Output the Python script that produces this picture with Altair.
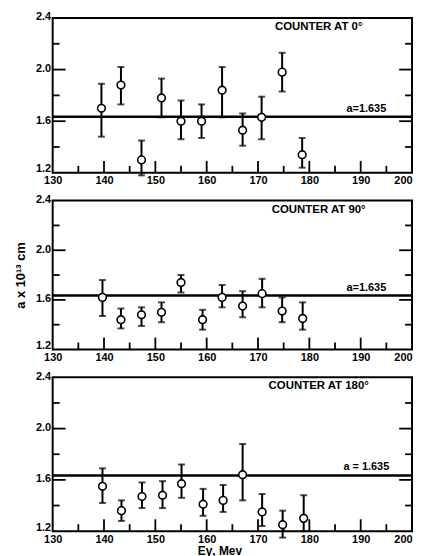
import altair as alt
import pandas as pd

# ---- data ----
x_labels = [130, 140, 150, 160, 170, 180, 190, 200]
x_minor = [135, 145, 155, 165, 175, 185, 195]
x_major = [140, 150, 160, 170, 180, 190]
y_labels = [1.2, 1.6, 2.0, 2.4]
y_major = [1.6, 2.0]
y_minor = [1.4, 1.8, 2.2]
fit_value = 1.635

titles = ["COUNTER AT 0°", "COUNTER AT 90°", "COUNTER AT 180°"]
fit_texts = ["a=1.635", "a=1.635", "a = 1.635"]

e0 = [139.5, 143.3, 147.3, 151.2, 155.0, 159.0, 163.0, 167.0, 170.7, 174.7, 178.6]
a0 = [1.70, 1.88, 1.30, 1.78, 1.60, 1.60, 1.84, 1.53, 1.63, 1.98, 1.34]
hi0 = [1.89, 2.02, 1.45, 1.93, 1.76, 1.73, 2.02, 1.66, 1.79, 2.13, 1.47]
lo0 = [1.48, 1.73, 1.18, 1.63, 1.46, 1.47, 1.63, 1.41, 1.46, 1.83, 1.24]

e90 = [139.7, 143.3, 147.3, 151.2, 155.0, 159.2, 163.0, 167.0, 170.8, 174.7, 178.7]
a90 = [1.62, 1.44, 1.48, 1.50, 1.74, 1.44, 1.62, 1.55, 1.65, 1.51, 1.45]
hi90 = [1.76, 1.53, 1.54, 1.58, 1.80, 1.52, 1.72, 1.67, 1.77, 1.62, 1.58]
lo90 = [1.47, 1.37, 1.39, 1.42, 1.66, 1.36, 1.54, 1.46, 1.54, 1.42, 1.36]

e180 = [139.7, 143.4, 147.4, 151.4, 155.1, 159.3, 163.2, 167.0, 170.8, 174.8, 178.9]
a180 = [1.55, 1.36, 1.47, 1.48, 1.57, 1.41, 1.44, 1.64, 1.35, 1.25, 1.30]
hi180 = [1.69, 1.44, 1.58, 1.59, 1.72, 1.53, 1.56, 1.88, 1.49, 1.36, 1.48]
lo180 = [1.42, 1.28, 1.38, 1.38, 1.46, 1.32, 1.35, 1.44, 1.24, 1.15, 1.20]

W = 362
FONT = "Liberation Sans"


def panel(xs, a, hi, lo, title, fit_text, h, ytitle_visible, xtitle):
    df = pd.DataFrame({"E": xs, "a": a, "hi": hi, "lo": lo})
    xscale = alt.Scale(domain=[130, 200], nice=False, zero=False)
    yscale = alt.Scale(domain=[1.2, 2.4], nice=False, zero=False)
    xaxis_kw = dict(values=x_labels, ticks=False, domain=False, grid=False,
                    labelFont=FONT, labelFontWeight="bold", labelFontSize=11,
                    labelColor="black", labelPadding=2, labelFlush=False,
                    labelAlign=alt.condition("datum.value >= 200",
                                             alt.value("right"), alt.value("center")),
                    format="d")
    if xtitle:
        xaxis = alt.Axis(title=xtitle, titleFont=FONT, titleFontWeight="bold",
                         titleFontSize=12, titleColor="black", titlePadding=1,
                         titleX=168, **xaxis_kw)
    else:
        xaxis = alt.Axis(title=None, **xaxis_kw)
    yaxis = alt.Axis(values=y_labels, ticks=False, domain=False, grid=False,
                     format=".1f", labelFont=FONT, labelFontWeight="bold",
                     labelFontSize=11, labelColor="black", labelPadding=2,
                     labelFlush=False, labelOffset=-1,
                     labelBaseline=alt.condition("datum.value <= 1.2",
                                                 alt.value("alphabetic"), alt.value("middle")),
                     title="a x 10¹³ cm", titleFont=FONT, titleFontWeight="bold",
                     titleFontSize=13, titleColor="black", titlePadding=8,
                     titleOpacity=1 if ytitle_visible else 0)
    base = alt.Chart(df)
    bars = base.mark_rule(color="black", strokeWidth=2).encode(
        x=alt.X("E:Q", scale=xscale, axis=xaxis),
        y=alt.Y("lo:Q", scale=yscale, axis=yaxis),
        y2="hi:Q",
    )
    cap_hi = base.mark_tick(orient="horizontal", size=7, thickness=2, color="black").encode(
        x="E:Q", y="hi:Q")
    cap_lo = base.mark_tick(orient="horizontal", size=7, thickness=2, color="black").encode(
        x="E:Q", y="lo:Q")

    fit_df = pd.DataFrame({"fit": [fit_value], "label": [fit_text], "title": [title]})
    fit = alt.Chart(fit_df).mark_rule(color="black", strokeWidth=2.5).encode(
        y="fit:Q")
    fit_lbl = alt.Chart(fit_df).mark_text(
        font=FONT, fontSize=11, fontWeight="bold", color="black",
        align="center", baseline="bottom", dy=-3).encode(
        x=alt.value(316), y="fit:Q", text="label:N")
    ttl = alt.Chart(fit_df).mark_text(
        font=FONT, fontSize=11.5, fontWeight="bold", color="black",
        align="center", baseline="middle").encode(
        x=alt.value(268), y=alt.value(9), text="title:N")

    pts = base.mark_point(shape="circle", size=60, filled=True, fill="white",
                          stroke="black", strokeWidth=1.6, opacity=1).encode(
        x="E:Q", y="a:Q")

    xmaj = pd.DataFrame({"E": x_major})
    xmin = pd.DataFrame({"E": x_minor})
    ymaj = pd.DataFrame({"a": y_major})
    ymin = pd.DataFrame({"a": y_minor})
    tk = dict(color="black", strokeWidth=1.8)
    ticks = [
        alt.Chart(xmaj).mark_rule(**tk).encode(x="E:Q",
                                               y=alt.value(h), y2=alt.value(h - 12)),
        alt.Chart(xmin).mark_rule(**tk).encode(x="E:Q",
                                               y=alt.value(h), y2=alt.value(h - 7)),
        alt.Chart(ymaj).mark_rule(**tk).encode(y="a:Q",
                                               x=alt.value(0), x2=alt.value(13)),
        alt.Chart(ymin).mark_rule(**tk).encode(y="a:Q",
                                               x=alt.value(0), x2=alt.value(7)),
        alt.Chart(ymaj).mark_rule(**tk).encode(y="a:Q",
                                               x=alt.value(W), x2=alt.value(W - 13)),
        alt.Chart(ymin).mark_rule(**tk).encode(y="a:Q",
                                               x=alt.value(W), x2=alt.value(W - 7)),
    ]
    return alt.layer(bars, cap_hi, cap_lo, fit, *ticks, pts, fit_lbl, ttl).properties(
        width=W, height=h)


p1 = panel(e0, a0, hi0, lo0, titles[0], fit_texts[0], 156, False, None)
p2 = panel(e90, a90, hi90, lo90, titles[1], fit_texts[1], 150, True, None)
p3 = panel(e180, a180, hi180, lo180, titles[2], fit_texts[2], 155, False, "Eγ, Mev")

chart = alt.vconcat(p1, p2, p3, spacing=6).properties(
    padding={"left": 5, "top": 0, "right": 0, "bottom": 0},
    background="white",
).configure_view(stroke="black", strokeWidth=2)

chart.save("out.html", embed_options={"renderer": "svg", "actions": False})
